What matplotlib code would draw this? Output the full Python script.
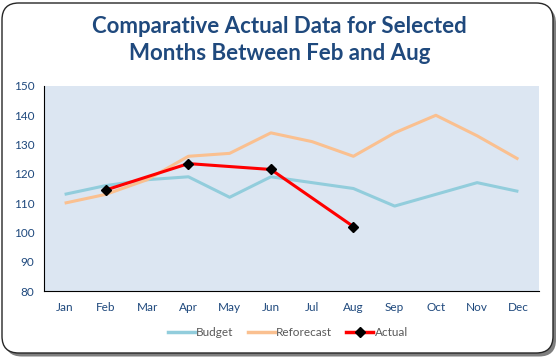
import matplotlib
matplotlib.use("Agg")
import matplotlib.pyplot as plt
from matplotlib.patches import FancyBboxPatch
from matplotlib.lines import Line2D

months = ["Jan", "Feb", "Mar", "Apr", "May", "Jun", "Jul", "Aug", "Sep", "Oct", "Nov", "Dec"]
budget = [113, 116, 118, 119, 112, 119, 117, 115, 109, 113, 117, 114]
reforecast = [110, 113, 118, 126, 127, 134, 131, 126, 134, 140, 133, 125]
actual_months = ["Feb", "Apr", "Jun", "Aug"]
actual = [114.5, 123.5, 121.5, 102]

navy = "#1F497D"
plt.rcParams["font.family"] = ["Lato", "DejaVu Sans"]

fig = plt.figure(figsize=(5.59, 3.57), dpi=100)

# rounded border with a shadow
shadow = FancyBboxPatch((5 / 559, 0.5 / 357), 551 / 559, 350 / 357,
                        boxstyle="round,pad=0,rounding_size=0.03",
                        transform=fig.transFigure, facecolor="#7f7f7f",
                        edgecolor="none", zorder=0, mutation_aspect=559 / 357)
border = FancyBboxPatch((2 / 559, 4 / 357), 551 / 559, 350 / 357,
                        boxstyle="round,pad=0,rounding_size=0.03",
                        transform=fig.transFigure, facecolor="white",
                        edgecolor="#262626", linewidth=1.0, zorder=1,
                        mutation_aspect=559 / 357)
fig.patches.extend([shadow, border])

ax = fig.add_axes([44 / 559, 1 - 291 / 357, 495 / 559, 205 / 357])
ax.set_zorder(2)
ax.set_facecolor("#DCE6F2")

x = list(range(len(months)))
ax.plot(x, budget, color="#92CDDC", linewidth=2.2, label="Budget", solid_capstyle="butt")
ax.plot(x, reforecast, color="#FAC090", linewidth=2.2, label="Reforecast", solid_capstyle="butt")
ax_x = [months.index(m) for m in actual_months]
ax.plot(ax_x, actual, color="#FF0000", linewidth=2.2, marker="D", markersize=5.5,
        markerfacecolor="black", markeredgecolor="black", label="Actual")

ax.set_xlim(-0.5, 11.5)
ax.set_ylim(80, 150)
ax.set_yticks(range(80, 151, 10))
ax.set_xticks(x)
ax.set_xticklabels(months)
ax.tick_params(axis="both", length=0, labelsize=8.5, colors=navy)
ax.tick_params(axis="y", pad=7)
ax.tick_params(axis="x", pad=8)
for side in ["top", "right"]:
    ax.spines[side].set_visible(False)
ax.spines["left"].set_color("black")
ax.spines["bottom"].set_color("black")

fig.text(0.50, 1 - 40 / 357, "Comparative Actual Data for Selected\nMonths Between Feb and Aug",
         ha="center", va="center", fontsize=16, fontweight="bold", color=navy,
         linespacing=1.3)

handles = [Line2D([], [], color="#92CDDC", linewidth=2.5),
           Line2D([], [], color="#FAC090", linewidth=2.5),
           Line2D([], [], color="#FF0000", linewidth=2.5, marker="D", markersize=5.5,
                  markerfacecolor="black", markeredgecolor="black")]
leg = fig.legend(handles, ["Budget", "Reforecast", "Actual"], loc="center",
                 bbox_to_anchor=(0.515, 1 - 333 / 357), ncol=3, frameon=False,
                 fontsize=8.5, handlelength=2.3, handletextpad=0.1, columnspacing=1.2)
for t in leg.get_texts():
    t.set_color("#595959")

fig.savefig("out.png", dpi=100)
